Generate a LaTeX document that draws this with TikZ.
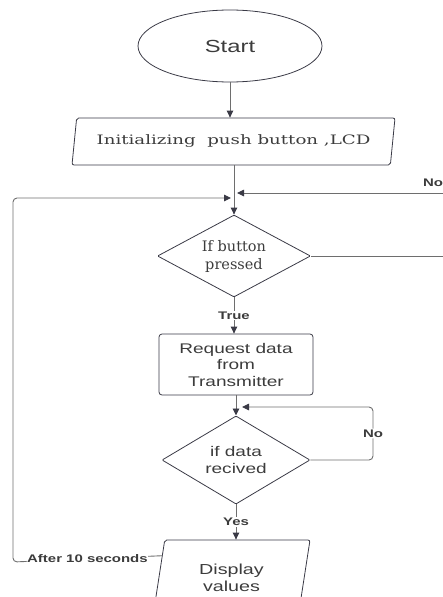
\documentclass[tikz,border=0pt]{standalone}
\usepackage{fontspec}
\setmainfont[FakeStretch=1.36]{Liberation Sans}
\newfontfamily\slabfont[FakeStretch=1.4]{DejaVu Serif}
\newfontfamily\diamfont{DejaVu Serif}
\usetikzlibrary{shapes.geometric,arrows.meta,calc}
\definecolor{linegray}{HTML}{6E6E6E}
\definecolor{tipgray}{HTML}{3A3A46}
\definecolor{txtgray}{HTML}{3C3C3C}

\begin{document}
\begin{tikzpicture}[x=1pt,y=1pt,yscale=-1,
  every node/.style={text=txtgray},
  shapebox/.style={draw=tipgray,line width=0.8pt,align=center,inner sep=0pt},
  flowline/.style={draw=linegray,line width=0.9pt},
  flowarrow/.style={flowline,-{Triangle[length=7pt,width=6.5pt,color=tipgray]}},
  lbl/.style={font=\bfseries\fontsize{11}{13}\selectfont,fill=white,inner sep=1pt}]
\useasboundingbox (0,0) rectangle (443,597);
% Shapes
\node[shapebox,ellipse,minimum width=184,minimum height=72,font=\fontsize{17.5}{20}\selectfont] (start) at (230,46) {Start};
\node[shapebox,trapezium,trapezium left angle=70,trapezium right angle=110,trapezium stretches body,rounded corners=2pt,minimum width=323,minimum height=47,font=\slabfont\fontsize{13}{16}\selectfont] (init) at (233.5,141.5) {Initializing\ \ push button ,LCD};
\node[shapebox,diamond,inner sep=-4pt,minimum width=153,minimum height=82,rounded corners=1pt,font=\diamfont\fontsize{14.5}{18}\selectfont] (ifbtn) at (234,256) {If button\\ pressed};
\node[shapebox,rectangle,rounded corners=3pt,minimum width=154,minimum height=61,font=\fontsize{14}{16.5}\selectfont] (req) at (236,364.5) {Request data\\ from\\ Transmitter};
\node[shapebox,diamond,minimum width=148,minimum height=62,rounded corners=1pt,font=\fontsize{14}{16.5}\selectfont] (ifdata) at (236,460) {if data\\ recived};
\node[shapebox,trapezium,trapezium left angle=67,trapezium right angle=113,trapezium stretches body,rounded corners=2pt,minimum width=157,minimum height=76,font=\fontsize{14.5}{17}\selectfont] (display) at (231.5,578) {Display\\ values};
% Junctions
\coordinate (joinleft) at (231,198);
\coordinate (joinright) at (237,193);
\coordinate (joindata) at (242,407);
\coordinate (dispside) at ($(display.top left corner)!0.21!(display.bottom left corner)$);
% Connectors
\draw[flowarrow] (start.south) -- (start.south |- init.north);
\draw[flowarrow] (init.south -| ifbtn.north) -- (ifbtn.north);
\draw[flowline] (ifbtn.east) -- (450,256) -- (450,193);
\draw[flowarrow] (450,193) -- (joinright);
\node[lbl,fill=none] (nobtn) at (433,183) {No};
\draw[flowarrow] (ifbtn.south) -- node[lbl] {True} (ifbtn.south |- req.north);
\draw[flowarrow] (req.south -| ifdata.north) -- (ifdata.north);
\draw[flowarrow,rounded corners=4pt] (ifdata.east) -- (373,460) -- node[lbl] {No} (373,407) -- (joindata);
\draw[flowarrow] (ifdata.south) -- node[lbl] {Yes} (ifdata.south |- display.north);
\draw[flowarrow,rounded corners=4pt] (dispside) -- node[lbl] {After 10 seconds} (13,562) -- (13,198) -- (joinleft);
\end{tikzpicture}
\end{document}
